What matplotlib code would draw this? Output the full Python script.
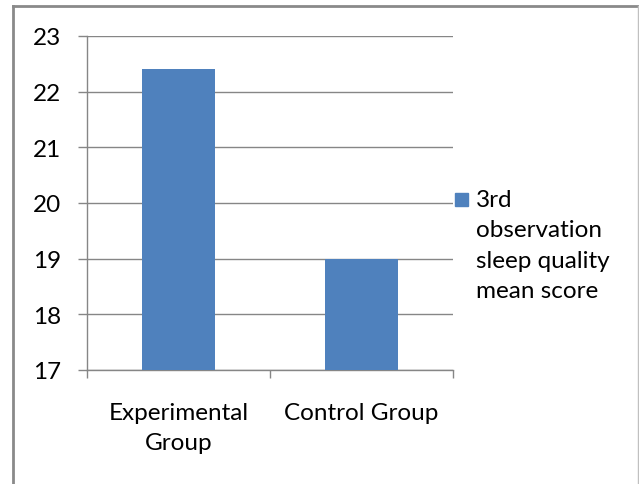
import matplotlib.pyplot as plt
from matplotlib.lines import Line2D
from matplotlib.patches import Rectangle

# data
groups = ['Experimental\nGroup', 'Control Group']
scores = [22.4, 19.0]
series_name = '3rd\nobservation\nsleep quality\nmean score'
y_ticks = [17, 18, 19, 20, 21, 22, 23]

bar_color = '#4F81BD'
grid_color = '#868686'

plt.rcParams['font.family'] = ['Lato', 'DejaVu Sans']

fig = plt.figure(figsize=(6.39, 4.85), dpi=100)
ax = fig.add_axes([87/639, 1 - 371/485, 366/639, 334/485])

x = list(range(len(groups)))
ax.bar(x, scores, width=0.4, color=bar_color, zorder=3)

ax.set_xlim(-0.5, len(groups) - 0.5)
ax.set_ylim(y_ticks[0], y_ticks[-1])
ax.set_yticks(y_ticks)
ax.yaxis.grid(True, color=grid_color, linewidth=1.0, zorder=0)

# category labels at centres, tick marks on boundaries
ax.set_xticks(x)
ax.set_xticklabels(groups, fontsize=17.5, va='top', linespacing=1.55)
ax.tick_params(axis='x', which='major', length=0, pad=23)
ax.set_xticks([-0.5, 0.5, 1.5], minor=True)
ax.tick_params(axis='x', which='minor', length=6, width=1.0, color=grid_color, direction='out')
ax.tick_params(axis='y', length=6.5, width=1.0, color=grid_color, direction='out', pad=12, labelsize=17.5)

for s in ['top', 'right']:
    ax.spines[s].set_visible(False)
for s in ['left', 'bottom']:
    ax.spines[s].set_color(grid_color)
    ax.spines[s].set_linewidth(1.0)

# legend drawn by hand to match the layout
fig.patches.append(Rectangle((455/639, 1 - 207/485), 13/639, 13/485,
                             transform=fig.transFigure, color=bar_color))
fig.text(476/639, 1 - 190/485, series_name, fontsize=17.5, va='top', ha='left', linespacing=1.55)

# outer chart border
border = dict(color='#8a8a8a', linewidth=2.0, transform=fig.transFigure)
fig.add_artist(Line2D([13/639, 13/639], [0, 1 - 7/485], **border))
fig.add_artist(Line2D([13/639, 638/639], [1 - 7/485, 1 - 7/485], **border))
fig.add_artist(Line2D([637.5/639, 637.5/639], [0, 1 - 7/485], color='#c0c0c0', linewidth=1.0,
                      transform=fig.transFigure))

fig.savefig('out.png', dpi=100)
